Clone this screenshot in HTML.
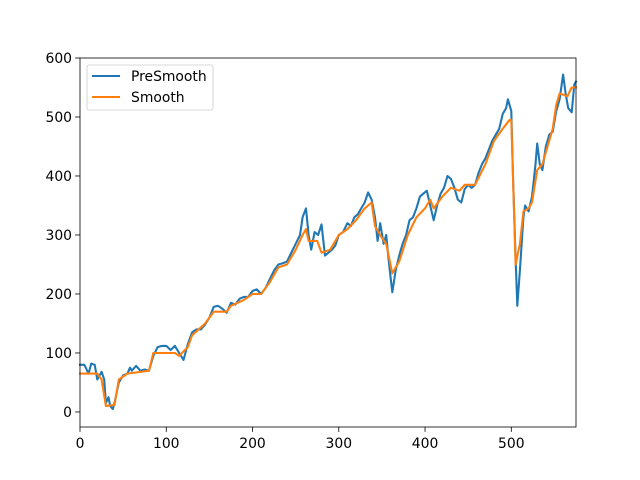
<!DOCTYPE html>
<html><head><meta charset="utf-8"><style>
body{margin:0;background:#fff;}
svg{display:block;font-family:"DejaVu Sans","Liberation Sans",sans-serif;}
</style></head><body>
<svg id="chart" width="640" height="480" xmlns="http://www.w3.org/2000/svg">
<rect width="640" height="480" fill="#fff"/>
<g id="marks"></g>
<g id="axes"></g>
</svg>
<script>
const preX = [0,5,10,13,17,20,25,28,30,33,35,38,40,45,50,55,58,60,65,70,75,80,85,90,95,100,105,110,115,120,125,130,135,140,145,150,155,160,165,170,175,180,185,190,195,200,205,210,215,220,225,230,235,240,245,250,255,258,262,265,268,272,276,280,284,288,292,296,300,305,310,314,318,322,326,330,334,338,342,345,348,352,355,358,362,366,370,374,378,382,386,390,394,398,402,406,410,414,418,422,426,430,434,438,442,446,450,454,458,462,466,470,474,478,482,486,490,494,496,500,502,505,507,510,514,516,520,524,528,530,533,536,540,544,548,552,556,560,563,566,570,573,575];
const preY = [80,80,65,82,80,55,68,55,15,25,10,5,15,50,62,65,75,70,78,70,72,70,95,110,112,112,105,112,100,88,115,135,140,140,148,160,178,180,175,168,185,182,192,195,195,205,208,200,210,225,240,250,252,255,270,285,300,330,345,300,275,305,300,318,265,270,275,282,300,305,320,315,330,335,345,355,372,360,330,290,320,285,300,255,203,240,265,285,300,325,330,345,365,370,375,350,325,350,370,380,400,395,380,360,355,378,385,380,385,405,420,430,445,460,470,480,505,515,530,510,400,260,180,240,330,350,340,365,420,455,420,410,450,470,475,510,530,572,540,515,508,555,560];
const smX = [0,20,25,30,40,45,55,80,85,110,115,125,130,145,155,170,175,190,200,210,220,230,240,250,258,262,265,275,280,290,300,310,320,330,338,342,350,355,362,370,380,390,400,406,410,420,430,440,446,458,470,480,490,498,500,505,510,514,520,524,530,536,540,548,552,556,565,570,575];
const smY = [65,65,55,10,12,55,65,70,100,100,95,110,130,150,170,170,180,190,200,200,220,245,250,275,300,310,290,290,270,275,300,310,325,345,355,315,295,285,235,255,300,330,345,360,345,365,380,375,385,385,420,460,480,495,495,250,285,340,345,355,410,420,440,480,520,540,535,550,550];
const xTicks = [0,100,200,300,400,500];
const yTicks = [0,100,200,300,400,500,600];

const L=80,R=576,T=58,B=427, XMIN=0,XMAX=575,YMIN=-25.5,YMAX=600;
const sx=v=>L+(v-XMIN)/(XMAX-XMIN)*(R-L);
const sy=v=>B-(v-YMIN)/(YMAX-YMIN)*(B-T);
const NS="http://www.w3.org/2000/svg";
const marks=document.getElementById('marks'), axes=document.getElementById('axes');
function mk(tag,attrs,parent){const e=document.createElementNS(NS,tag);for(const k in attrs)e.setAttribute(k,attrs[k]);parent.appendChild(e);return e;}

function line(xs,ys,color,name){
  const d=xs.map((x,i)=>(i?'L':'M')+sx(x).toFixed(1)+','+sy(ys[i]).toFixed(1)).join(' ');
  const p=mk('path',{d:d,fill:'none',stroke:color,'stroke-width':2.08,'stroke-linejoin':'round','stroke-linecap':'square'},marks);
  
  
}
line(preX,preY,'#1f77b4','presmooth-line');
line(smX,smY,'#ff7f0e','smooth-line');

const frame=mk('rect',{x:L,y:T,width:R-L,height:B-T,fill:'none',stroke:'#000','stroke-width':0.8},axes);


xTicks.forEach(t=>{
  const x=sx(t);
  mk('line',{x1:x,x2:x,y1:B,y2:B+4.9,stroke:'#000','stroke-width':0.8},axes);
  const tx=mk('text',{x:x,y:B+21,'font-size':13.9,'text-anchor':'middle',fill:'#000'},axes);
  tx.textContent=t;
  
  
});
yTicks.forEach(t=>{
  const y=sy(t);
  mk('line',{x1:L-4.9,x2:L,y1:y,y2:y,stroke:'#000','stroke-width':0.8},axes);
  const tx=mk('text',{x:L-8,y:y+5,'font-size':13.9,'text-anchor':'end',fill:'#000'},axes);
  tx.textContent=t;
  
  
});
const lg=mk('g',{},axes);


mk('rect',{x:87,y:65,width:126,height:45,rx:2,fill:'#fff','fill-opacity':0.8,stroke:'#ccc','stroke-width':0.8},lg);
[['PreSmooth','#1f77b4',76],['Smooth','#ff7f0e',97]].forEach(([n,c,y])=>{
  const e=mk('g',{},lg);
  
  
  mk('line',{x1:92,x2:120,y1:y,y2:y,stroke:c,'stroke-width':2.08},e);
  const t=mk('text',{x:131,y:y+5,'font-size':13.9,fill:'#000'},e);
  t.textContent=n;
});
</script>
</body></html>
